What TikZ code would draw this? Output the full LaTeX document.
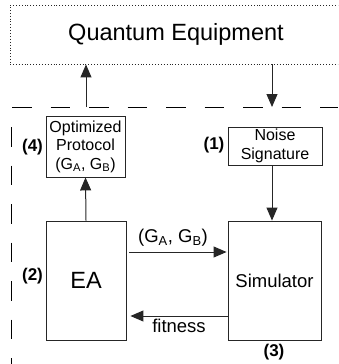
\documentclass[tikz,border=0pt]{standalone}
\usepackage{fontspec}
\setmainfont{Liberation Sans}
\usetikzlibrary{arrows.meta}

\begin{document}
\begin{tikzpicture}[
  x=1pt,
  y=-1pt,
  block/.style={draw=black!85, line width=0.9pt, align=center, inner sep=0pt,
    font=\fontsize{16}{18.5}\selectfont},
  bigbox/.style={block, font=\fontsize{23.5}{28}\selectfont},
  midbox/.style={block, font=\fontsize{18.5}{22}\selectfont},
  tag/.style={font=\bfseries\fontsize{17}{20}\selectfont},
  lbl/.style={font=\fontsize{18.5}{22}\selectfont, inner sep=1pt},
  arrow/.style={-{Triangle[length=13pt,width=11pt]}, line width=1pt, draw=black!85},
  border/.style={dash pattern=on 19.5pt off 19pt, line width=1pt}
]
\useasboundingbox (0,0) rectangle (338,364);
\clip (0,0) rectangle (338,364);

% outside world
\node[bigbox, dotted, minimum width=332pt, minimum height=59pt] (equip) at (176,34.5) {Quantum Equipment};

% boundary of the optimisation loop
\draw[border] (12,107) -- (338,107);
\draw[border] (11,127) -- (11,364);
\coordinate (upout) at (86,107);
\coordinate (downin) at (272,107);

\node[block, minimum width=79pt, minimum height=61pt] (protocol) at (85.5,146.5) {Optimized\\Protocol\\(G\textsubscript{A}, G\textsubscript{B})};
\node[block, minimum width=94pt, minimum height=38pt] (noise) at (275,146) {Noise\\Signature};
\node[bigbox, minimum width=80pt, minimum height=119pt] (ea) at (86,280.5) {EA};
\node[midbox, minimum width=93pt, minimum height=119pt] (sim) at (274.5,280.5) {Simulator};

\node[tag] (t1) at (214,145) {(1)};
\node[tag] (t2) at (32.5,276) {(2)};
\node[tag] (t3) at (274,352) {(3)};
\node[tag] (t4) at (32.5,147) {(4)};

\draw[arrow] (upout) -- (upout |- equip.south);
\draw[arrow] (equip.south -| downin) -- (downin);
\draw[arrow] (ea.north) -- (protocol.south);
\draw[arrow] (noise.south -| downin) -- (sim.north -| downin);
\draw[arrow] ([shift={(3,-28.5)}]ea.east) -- node[lbl, above=4pt, xshift=-5pt] {(G\textsubscript{A}, G\textsubscript{B})} ([shift={(-1,-28.5)}]sim.west);
\draw[arrow] ([shift={(0,35.5)}]sim.west) -- node[lbl, below=2pt] {fitness} ([shift={(4,35.5)}]ea.east);
\end{tikzpicture}
\end{document}
